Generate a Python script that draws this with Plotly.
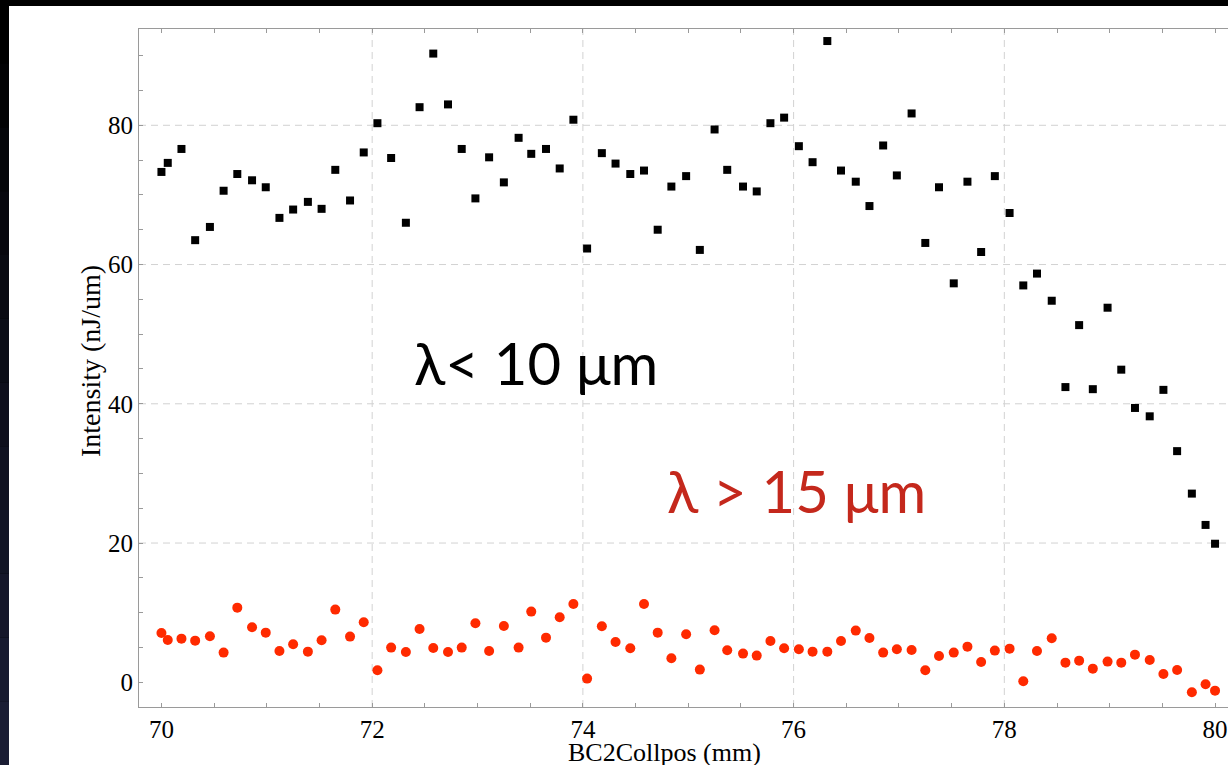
import plotly.graph_objects as go

# ---- data ----
x_pos = [70.00, 70.06, 70.19, 70.32, 70.46, 70.59, 70.72, 70.86, 70.99, 71.12,
         71.25, 71.39, 71.52, 71.65, 71.79, 71.92, 72.05, 72.18, 72.32, 72.45,
         72.58, 72.72, 72.85, 72.98, 73.11, 73.25, 73.39, 73.51, 73.65, 73.78,
         73.91, 74.04, 74.18, 74.31, 74.45, 74.58, 74.71, 74.84, 74.98, 75.11,
         75.25, 75.37, 75.52, 75.65, 75.78, 75.91, 76.05, 76.18, 76.32, 76.45,
         76.59, 76.72, 76.85, 76.98, 77.12, 77.25, 77.38, 77.52, 77.65, 77.78,
         77.91, 78.05, 78.18, 78.31, 78.45, 78.58, 78.71, 78.84, 78.98, 79.11,
         79.24, 79.38, 79.51, 79.64, 79.78, 79.91, 80.00]

short_wl = [73.3, 74.6, 76.6, 63.5, 65.4, 70.6, 73.0, 72.1, 71.1, 66.7,
            67.9, 69.0, 68.0, 73.6, 69.2, 76.1, 80.3, 75.3, 66.0, 82.6,
            90.3, 83.0, 76.6, 69.5, 75.4, 71.8, 78.2, 75.9, 76.6, 73.8,
            80.8, 62.3, 76.0, 74.5, 73.0, 73.5, 65.0, 71.2, 72.7, 62.1,
            79.4, 73.6, 71.2, 70.5, 80.3, 81.1, 77.0, 74.7, 92.1, 73.5,
            71.9, 68.4, 77.1, 72.8, 81.7, 63.1, 71.1, 57.3, 71.9, 61.8,
            72.7, 67.4, 57.0, 58.7, 54.8, 42.4, 51.3, 42.1, 53.8, 44.9,
            39.4, 38.2, 42.0, 33.2, 27.1, 22.6, 19.9]

long_wl = [7.08, 6.08, 6.27, 5.98, 6.61, 4.26, 10.72, 7.90, 7.13, 4.50,
           5.46, 4.40, 6.03, 10.44, 6.56, 8.62, 1.72, 4.98, 4.36, 7.66,
           4.93, 4.36, 4.98, 8.47, 4.50, 8.09, 4.98, 10.15, 6.41, 9.33,
           11.25, 0.53, 8.04, 5.79, 4.88, 11.25, 7.13, 3.45, 6.89, 1.82,
           7.47, 4.60, 4.12, 3.83, 5.94, 4.88, 4.74, 4.40, 4.40, 5.94,
           7.42, 6.37, 4.26, 4.74, 4.64, 1.72, 3.78, 4.26, 5.12, 2.92,
           4.55, 4.83, 0.14, 4.50, 6.32, 2.82, 3.11, 1.96, 2.97, 2.82,
           3.97, 3.21, 1.20, 1.77, -1.44, -0.29, -1.20]

x_ticks = [70, 72, 74, 76, 78, 80]
y_ticks = [0, 20, 40, 60, 80]
grid_x = [72, 74, 76, 78]
grid_y = [20, 40, 60, 80]

x_title = "BC2Collpos (mm)"
y_title = "Intensity (nJ/um)"
label_short = "λ< 10 μm"
label_long = "λ > 15 μm"

# ---- figure ----
W, H = 1228, 765
ML, MT, MB, MR = 139, 29, 58, 0
pw = W - ML - MR
ph = H - MT - MB

def px_to_paper_x(px):
    return (px - ML) / pw

def py_to_paper_y(py):
    return (H - MB - py) / ph

AXIS_GRAY = "#9a9a9a"
SERIF = "Liberation Serif, Times New Roman, serif"

fig = go.Figure()
fig.add_trace(go.Scatter(x=x_pos, y=short_wl, mode="markers",
                         marker=dict(symbol="square", size=8, color="black"),
                         showlegend=False, cliponaxis=True))
fig.add_trace(go.Scatter(x=x_pos, y=long_wl, mode="markers",
                         marker=dict(symbol="circle", size=10, color="#ff2a00"),
                         showlegend=False, cliponaxis=True))

shapes = []
# dark slide background strips (left gradient)
n_bands = 12
for i in range(n_bands):
    t = i / (n_bands - 1)
    r = int(26 * t)
    g = int(29 * t)
    b = int(52 * t)
    shapes.append(dict(type="rect", xref="paper", yref="paper", layer="below",
                       x0=px_to_paper_x(0), x1=px_to_paper_x(10),
                       y0=py_to_paper_y(H * (i + 1) / n_bands),
                       y1=py_to_paper_y(H * i / n_bands),
                       fillcolor=f"rgb({r},{g},{b})", line=dict(width=0)))
# white slide panel
shapes.append(dict(type="rect", xref="paper", yref="paper", layer="below",
                   x0=px_to_paper_x(9), x1=px_to_paper_x(W + 5),
                   y0=py_to_paper_y(H + 5), y1=py_to_paper_y(6),
                   fillcolor="white", line=dict(width=0)))
for gx in grid_x:
    shapes.append(dict(type="line", xref="x", yref="paper", layer="below",
                       x0=gx, x1=gx, y0=0, y1=1,
                       line=dict(color="#d2d2d2", width=1, dash="7px,5px")))
for gy in grid_y:
    shapes.append(dict(type="line", xref="paper", yref="y", layer="below",
                       x0=0, x1=1, y0=gy, y1=gy,
                       line=dict(color="#d2d2d2", width=1, dash="7px,5px")))

fig.update_layout(
    width=W, height=H,
    margin=dict(l=ML, r=MR, t=MT, b=MB, pad=0),
    paper_bgcolor="black",
    plot_bgcolor="rgba(0,0,0,0)",
    shapes=shapes,
    showlegend=False,
    xaxis=dict(range=[69.787, 80.123], tickvals=x_ticks, ticks="inside",
               ticklen=4, tickcolor=AXIS_GRAY, showline=True, linecolor=AXIS_GRAY,
               linewidth=1, mirror="ticks", showgrid=False, zeroline=False,
               tickfont=dict(family=SERIF, size=25, color="black"),
               minor=dict(dtick=0.5, tick0=70, ticks="inside", ticklen=4,
                          tickcolor=AXIS_GRAY, showgrid=False)),
    yaxis=dict(range=[-3.55, 93.83], tickvals=y_ticks, ticks="inside",
               ticklen=4, tickcolor=AXIS_GRAY, showline=True, linecolor=AXIS_GRAY,
               linewidth=1, mirror=False, showgrid=False, zeroline=False,
               tickfont=dict(family=SERIF, size=25, color="black"),
               minor=dict(dtick=5, tick0=0, ticks="inside", ticklen=4,
                          tickcolor=AXIS_GRAY, showgrid=False)),
    annotations=[
        dict(x=px_to_paper_x(664), y=py_to_paper_y(752), xref="paper", yref="paper",
             text=x_title, showarrow=False, xanchor="center", yanchor="middle",
             font=dict(family=SERIF, size=26, color="black")),
        dict(x=px_to_paper_x(90), y=py_to_paper_y(361), xref="paper", yref="paper",
             text=y_title, showarrow=False, xanchor="center", yanchor="middle",
             textangle=-90, font=dict(family=SERIF, size=28, color="black")),
        dict(x=72.376, y=46.0, xref="x", yref="y", text=label_short,
             showarrow=False, xanchor="left", yanchor="middle",
             font=dict(family="Lato, Open Sans, sans-serif", size=58, color="black")),
        dict(x=74.78, y=27.6, xref="x", yref="y", text=label_long,
             showarrow=False, xanchor="left", yanchor="middle",
             font=dict(family="Lato, Open Sans, sans-serif", size=58, color="#c4281c")),
    ],
)

fig.write_html("out.html")
